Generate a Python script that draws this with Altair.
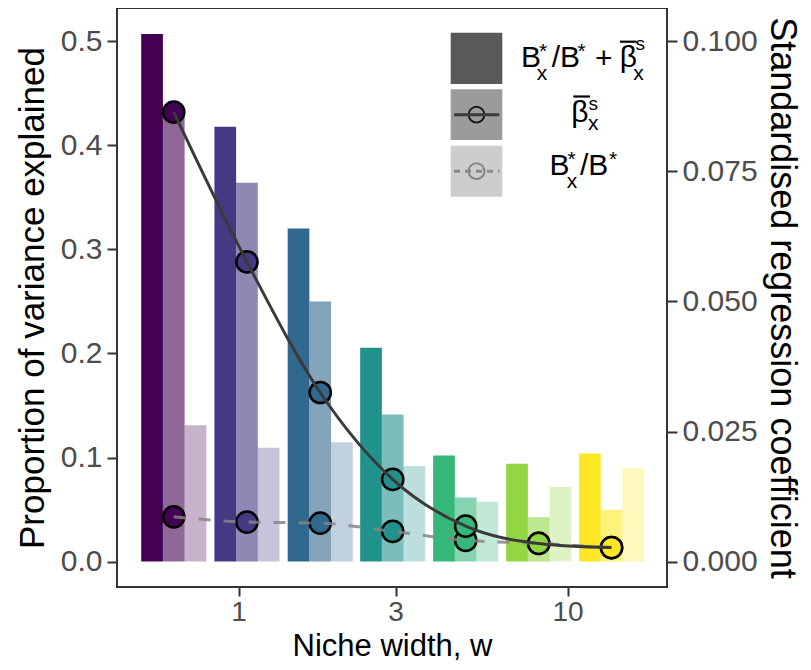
import altair as alt
import pandas as pd

# ---------------- data ----------------
groups = ["g1", "g2", "g3", "g4", "g5", "g6", "g7"]
niche_w = [0.635, 1.06, 1.77, 2.94, 4.9, 8.17, 13.6]
# left axis: proportion of variance explained
var_total = [0.507, 0.418, 0.320, 0.2055, 0.102, 0.094, 0.104]   # B*x/B* + beta
var_beta = [0.432, 0.364, 0.250, 0.1413, 0.0617, 0.0427, 0.0499]  # beta
var_bb = [0.131, 0.1095, 0.1147, 0.0918, 0.0576, 0.0717, 0.0899]  # B*x/B*
# right axis: standardised regression coefficient
coef_beta = [0.0864, 0.0576, 0.0325, 0.0158, 0.0068, 0.0035, 0.0027]
coef_bb = [0.0086, 0.0076, 0.0074, 0.0058, 0.0041, 0.0035, 0.0027]
viridis7 = ["#440154", "#443983", "#31688e", "#21918c", "#35b779", "#90d743", "#fde725"]

df = pd.DataFrame({
    "group": groups, "w": niche_w,
    "var_total": var_total, "var_beta": var_beta, "var_bb": var_bb,
    "coef_beta": coef_beta, "coef_bb": coef_bb,
})

FONT = "Liberation Sans"
W, H = 550, 579
X0, Y0 = 117, 8          # page position of the plot area
BW = 21.7                # bar width

xs = alt.Scale(type="log", domain=[0.4268, 20.05], nice=False, padding=0)
x_axis = alt.Axis(values=[1, 3, 10], format="~g", title="Niche width, w",
                  tickSize=9, labelPadding=2, labelFontSize=28, titleFontSize=31,
                  titleBaseline="alphabetic", titleY=68)
ls = alt.Scale(domain=[-0.0244, 0.532], nice=False, zero=False, padding=0)
rs = alt.Scale(domain=[-0.00488, 0.1064], nice=False, zero=False, padding=0)
left_axis = alt.Axis(orient="left", values=[0, 0.1, 0.2, 0.3, 0.4, 0.5], format=".1f",
                     title="Proportion of variance explained", titlePadding=10,
                     titleFontSize=35)
right_axis = alt.Axis(orient="right", values=[0, 0.025, 0.05, 0.075, 0.1], format=".3f",
                      title="Standardised regression coefficient",
                      titleFontSize=36, titleBaseline="alphabetic", titleX=103)
fill_scale = alt.Scale(domain=groups, range=viridis7)

base = alt.Chart(df)
X = alt.X("w:Q", scale=xs, axis=x_axis)
COL = alt.Color("group:N", scale=fill_scale, legend=None)


def bar_layer(field, offset, op):
    return base.mark_bar(width=BW, xOffset=offset, opacity=op).encode(
        x=X, y=alt.Y(f"{field}:Q", scale=ls, axis=left_axis), color=COL)


left = alt.layer(bar_layer("var_total", -BW, 1.0),
                 bar_layer("var_beta", 0, 0.6),
                 bar_layer("var_bb", BW, 0.3))


def pt_layer(field):
    return base.mark_circle(size=450, opacity=1, stroke="black", strokeWidth=2.5).encode(
        x=X, y=alt.Y(f"{field}:Q", scale=rs, axis=right_axis), color=COL)


ln_bb = base.mark_line(color="#858585", strokeWidth=3, strokeDash=[12, 13],
                       interpolate="monotone", opacity=0.85).encode(
    x=X, y=alt.Y("coef_bb:Q", scale=rs, axis=right_axis))
ln_beta = base.mark_line(color="#3a3a3a", strokeWidth=3, interpolate="monotone").encode(
    x=X, y=alt.Y("coef_beta:Q", scale=rs, axis=right_axis))
right = alt.layer(pt_layer("coef_bb"), pt_layer("coef_beta"), ln_bb, ln_beta)

# ---------------- manual legend ----------------
one = alt.Data(values=[{"k": 1}])
KEY_GREY = "#595959"
key_x = (450.7, 502.3)
key_rows = [(32.7, 84.0, 1.0), (89.3, 140.0, 0.6), (145.7, 196.7, 0.3)]


def px(v):
    return alt.value(v - X0)


def py(v):
    return alt.value(v - Y0)


legend_layers = []
for (ya, yb, op) in key_rows:
    legend_layers.append(alt.Chart(one).mark_rect(color=KEY_GREY, opacity=op).encode(
        x=px(key_x[0]), x2=px(key_x[1]), y=py(ya), y2=py(yb)))

kc = (key_x[0] + key_x[1]) / 2
legend_layers.append(alt.Chart(one).mark_circle(size=250, opacity=1, fill="#9b9b9b",
                                                stroke="#1a1a1a", strokeWidth=2).encode(
    x=px(kc), y=py(114.7)))
legend_layers.append(alt.Chart(one).mark_rule(color="#3a3a3a", strokeWidth=3).encode(
    x=px(454), x2=px(499.3), y=py(114.7)))
legend_layers.append(alt.Chart(one).mark_circle(size=250, opacity=1, fill="#cdcdcd",
                                                stroke="#858585", strokeWidth=2).encode(
    x=px(kc), y=py(171.2)))
legend_layers.append(alt.Chart(one).mark_rule(color="#8a8a8a", strokeWidth=3,
                                              strokeDash=[6, 5]).encode(
    x=px(454), x2=px(499.3), y=py(171.2)))

MAIN, SCRIPT = 30, 21
pieces = [
    # label 1: B*x/B* + beta-bar s x
    ("B", 521.0, 66.7, MAIN), ("*", 539.0, 57.5, SCRIPT), ("x", 536.7, 80.0, SCRIPT),
    ("/B", 551.7, 66.7, MAIN), ("*", 577.5, 57.5, SCRIPT), ("+", 595.0, 67.5, MAIN),
    ("β", 619.7, 67.0, MAIN), ("s", 635.5, 50.0, 19), ("x", 633.3, 80.0, SCRIPT),
    # label 2: beta-bar s x
    ("β", 571.3, 122.0, MAIN), ("s", 588.5, 110.0, 19), ("x", 588.0, 130.0, SCRIPT),
    # label 3: B*x/B*
    ("B", 549.5, 175.0, MAIN), ("*", 567.4, 166.0, SCRIPT), ("x", 566.7, 188.3, SCRIPT),
    ("/B", 580.0, 175.0, MAIN), ("*", 609.0, 166.0, SCRIPT),
]
for (s, x, y, size) in pieces:
    legend_layers.append(alt.Chart(one).mark_text(
        text=s, fontSize=size, font=FONT, align="left", baseline="alphabetic",
        color="black").encode(x=px(x), y=py(y)))
for (xa, xb, y) in [(620.0, 636.7, 41.7), (573.3, 590.0, 96.5)]:
    legend_layers.append(alt.Chart(one).mark_rule(color="black", strokeWidth=2.2).encode(
        x=px(xa), x2=px(xb), y=py(y)))

TOTAL_W, TOTAL_H = 811 - 16, 670 - 16
chart = alt.layer(left, right, *legend_layers).resolve_scale(
    y="independent", color="shared"
).properties(
    width=W, height=H,
    autosize=alt.AutoSizeParams(type="none"),
    padding={"left": X0 - 8, "top": Y0 - 8, "right": TOTAL_W - (X0 - 8) - W,
             "bottom": TOTAL_H - (Y0 - 8) - H},
).configure_view(
    stroke="#333333", strokeWidth=2
).configure_axis(
    grid=False, domain=False,
    labelFont=FONT, titleFont=FONT,
    labelFontSize=30, labelColor="#4d4d4d",
    titleColor="black", titleFontWeight="normal",
    tickColor="#333333", tickWidth=2, tickSize=10, labelPadding=5,
)

chart.save("out.html", embed_options={"renderer": "svg", "actions": False})
